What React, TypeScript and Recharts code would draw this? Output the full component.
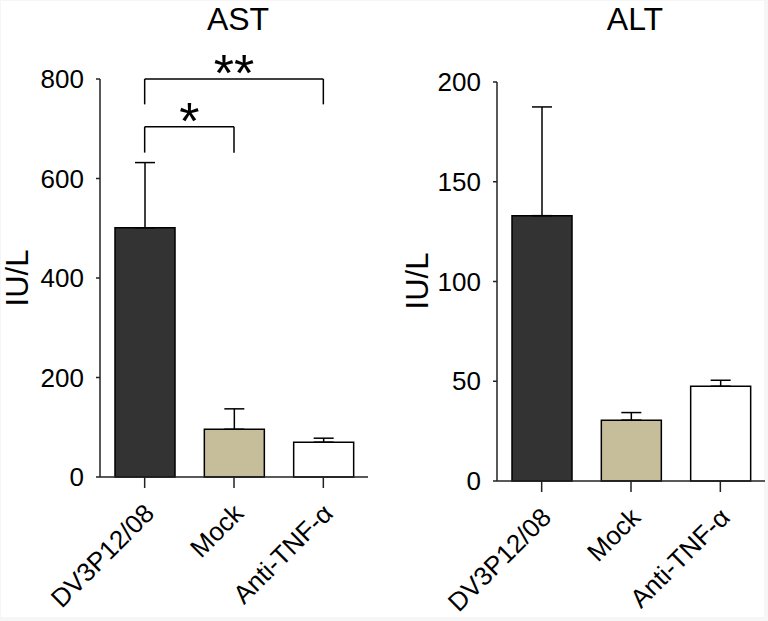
import React from 'react'
import { BarChart, Bar, XAxis, YAxis, Cell, ErrorBar, ReferenceLine } from 'recharts'

const groups = ['DV3P12/08', 'Mock', 'Anti-TNF-α']
const astMean = [501, 96, 70]
const astSem = [131, 41, 8]
const altMean = [133, 30.5, 47.5]
const altSem = [54.5, 3.8, 3]
const astTicks = [0, 200, 400, 600, 800]
const altTicks = [0, 50, 100, 150, 200]

// significance brackets on the AST panel
const astBrackets = [
  { from: 'DV3P12/08', to: 'Anti-TNF-α', low: 749, high: 800, mark: '**' },
  { from: 'DV3P12/08', to: 'Mock', low: 652, high: 704, mark: '*' },
]

const fills = ['#333333', '#C6BE9B', '#FFFFFF']
const FONT = '"Liberation Sans", Arial, sans-serif'
const AXIS = '#222'

const toRows = (mean: number[], sem: number[]) =>
  groups.map((g, i) => ({ name: g, value: mean[i], err: [0, sem[i]] }))

function SlantTick({ x, y, payload }: any) {
  return (
    <g transform={`translate(${x + 11},${y + 25}) rotate(-45)`}>
      <text x={0} y={0} textAnchor="end" fontSize={26} fill="#000" fontFamily={FONT}>
        {payload.value}
      </text>
    </g>
  )
}

interface PanelProps {
  rows: { name: string; value: number; err: number[] }[]
  ticks: number[]
  margin: { top: number; right: number; bottom: number; left: number }
  xHeight: number
  brackets?: typeof astBrackets
}

function Panel({ rows, ticks, margin, xHeight, brackets = [] }: PanelProps) {
  const max = ticks[ticks.length - 1]
  return (
    <BarChart width={384} height={621} data={rows} margin={margin} barSize={60}>
      <XAxis
        dataKey="name"
        height={xHeight}
        interval={0}
        tick={<SlantTick />}
        tickSize={11}
        tickMargin={2}
        axisLine={{ stroke: AXIS, strokeWidth: 1.5 }}
        tickLine={{ stroke: AXIS, strokeWidth: 1.5 }}
      />
      <YAxis
        domain={[0, max]}
        ticks={ticks}
        width={100}
        tickSize={4}
        tickMargin={12}
        tick={{ fontSize: 26, fill: '#000', fontFamily: FONT }}
        axisLine={{ stroke: AXIS, strokeWidth: 1.5 }}
        tickLine={{ stroke: AXIS, strokeWidth: 1.5 }}
      />
      <Bar dataKey="value" stroke="#000" strokeWidth={1.5} isAnimationActive={false}>
        {rows.map((r, i) => (
          <Cell key={r.name} fill={fills[i]} />
        ))}
        <ErrorBar dataKey="err" direction="y" width={10} stroke="#000" strokeWidth={1.5} isAnimationActive={false} />
      </Bar>
      {brackets.map((b) => (
        <ReferenceLine
          key={b.mark + 'h'}
          segment={[{ x: b.from, y: b.high }, { x: b.to, y: b.high }]}
          stroke="#000"
          strokeWidth={1.5}
          ifOverflow="visible"
          label={{ value: b.mark, position: 'top', offset: -12, fontSize: 52, fill: '#000', fontFamily: FONT }}
        />
      ))}
      {brackets.map((b) => (
        <ReferenceLine
          key={b.mark + 'l'}
          segment={[{ x: b.from, y: b.low }, { x: b.from, y: b.high }]}
          stroke="#000"
          strokeWidth={1.5}
          ifOverflow="visible"
        />
      ))}
      {brackets.map((b) => (
        <ReferenceLine
          key={b.mark + 'r'}
          segment={[{ x: b.to, y: b.low }, { x: b.to, y: b.high }]}
          stroke="#000"
          strokeWidth={1.5}
          ifOverflow="visible"
        />
      ))}
    </BarChart>
  )
}

export default function App() {
  return (
    <div style={{ position: 'absolute', left: 0, top: 0, width: 768, height: 621, background: '#f6f6f6' }}>
      <div style={{ position: 'absolute', left: 1, top: 1, width: 763, height: 616, background: '#fff' }} />
      <div style={{ position: 'absolute', left: 0, top: 0 }}>
        <Panel rows={toRows(astMean, astSem)} ticks={astTicks} margin={{ top: 79, right: 16, bottom: 0, left: 0 }} xHeight={144} brackets={astBrackets} />
      </div>
      <div style={{ position: 'absolute', left: 384, top: 0 }}>
        <Panel rows={toRows(altMean, altSem)} ticks={altTicks} margin={{ top: 82, right: 3, bottom: 0, left: 13 }} xHeight={140} />
      </div>
      <svg width={768} height={621} style={{ position: 'absolute', left: 0, top: 0, pointerEvents: 'none' }}>
        <g fontFamily={FONT} fill="#000">
          <text x={238} y={30} textAnchor="middle" fontSize={32}>AST</text>
          <text x={635} y={30} textAnchor="middle" fontSize={32}>ALT</text>
          <text transform="translate(28,278) rotate(-90)" textAnchor="middle" fontSize={31}>IU/L</text>
          <text transform="translate(428,281) rotate(-90)" textAnchor="middle" fontSize={31}>IU/L</text>
        </g>
      </svg>
    </div>
  )
}
